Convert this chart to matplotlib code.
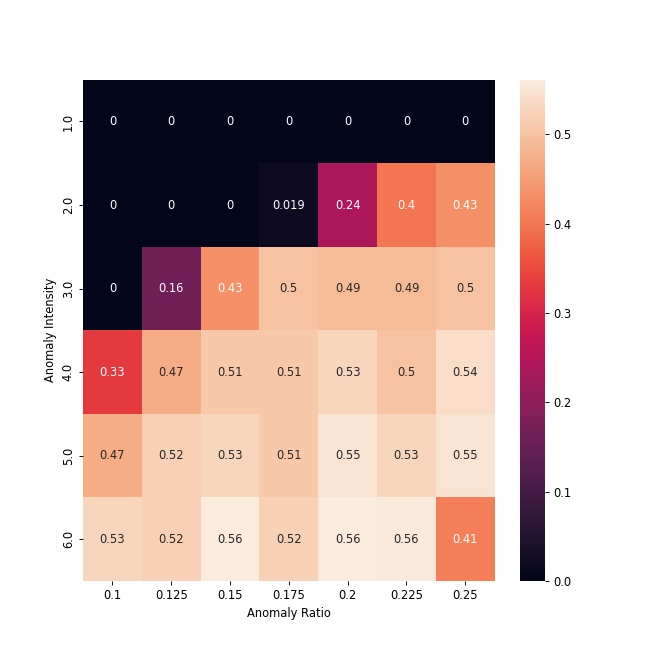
import numpy as np
import matplotlib
matplotlib.use("Agg")
import matplotlib.pyplot as plt
import seaborn as sns

ratios = [0.1, 0.125, 0.15, 0.175, 0.2, 0.225, 0.25]
intensities = [1.0, 2.0, 3.0, 4.0, 5.0, 6.0]

# rows = anomaly intensity, cols = anomaly ratio
scores = np.array([
    [0.0, 0.0, 0.0, 0.0, 0.0, 0.0, 0.0],
    [0.0, 0.0, 0.0, 0.019, 0.24, 0.40, 0.43],
    [0.0, 0.16, 0.43, 0.50, 0.49, 0.49, 0.50],
    [0.33, 0.47, 0.51, 0.51, 0.53, 0.50, 0.54],
    [0.47, 0.52, 0.53, 0.51, 0.55, 0.53, 0.55],
    [0.53, 0.52, 0.561, 0.52, 0.56, 0.558, 0.41],
])

fig = plt.figure(figsize=(8, 8), dpi=83)
ax = fig.add_subplot(111)
fig.subplots_adjust(bottom=0.125)
sns.heatmap(scores, annot=True, xticklabels=ratios, yticklabels=intensities, ax=ax)
ax.set_xlabel("Anomaly Ratio")
ax.set_ylabel("Anomaly Intensity")
fig.savefig("out.png")
